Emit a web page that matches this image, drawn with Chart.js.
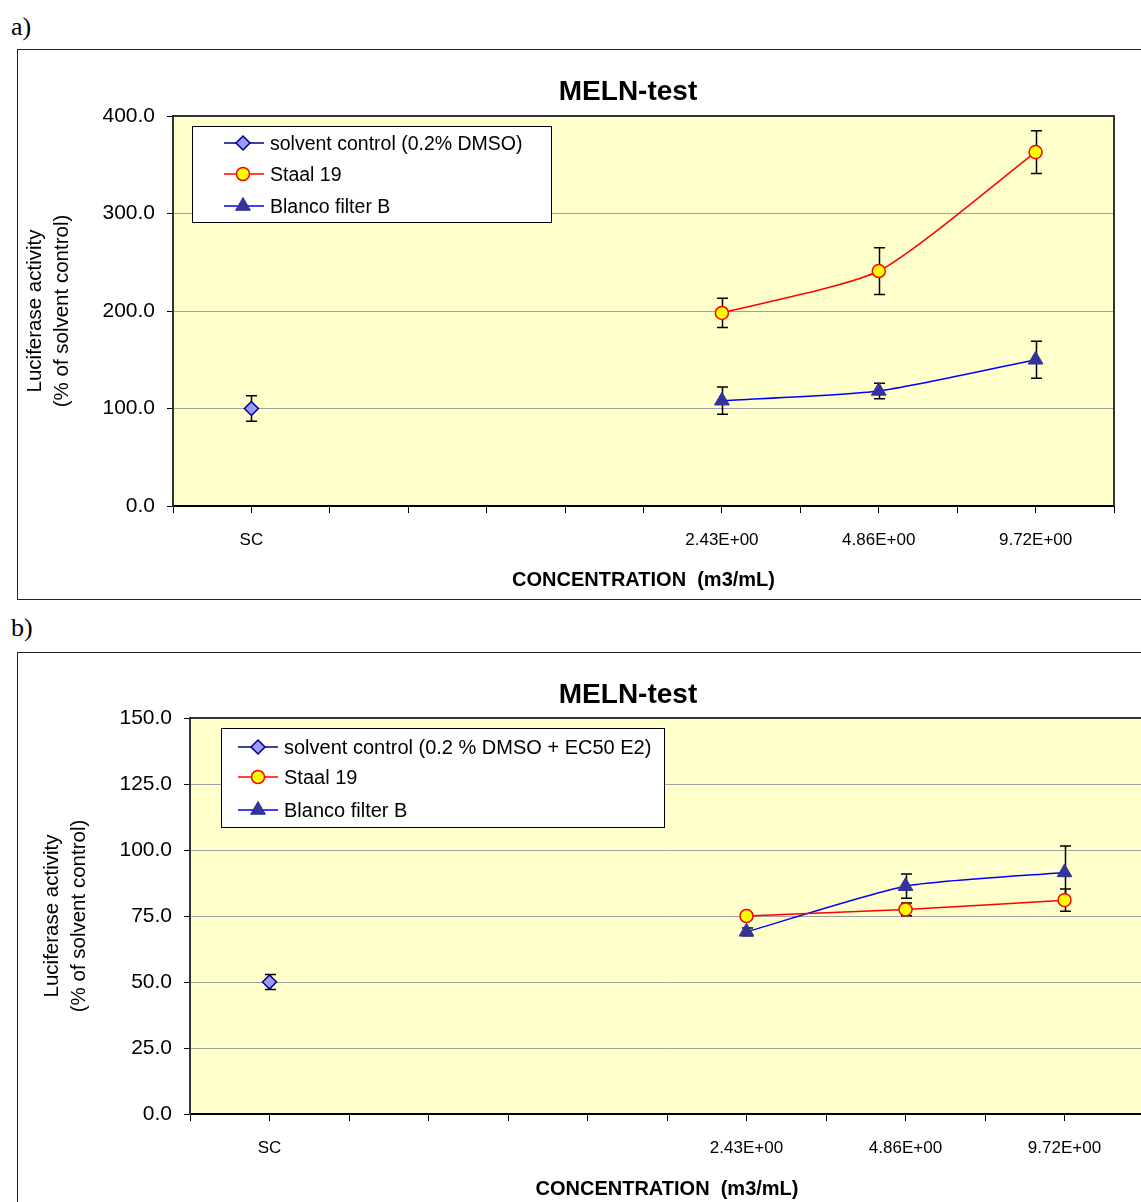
<!DOCTYPE html>
<html>
<head>
<meta charset="utf-8">
<script src="https://cdn.jsdelivr.net/npm/chart.js@4.4.0/dist/chart.umd.min.js"></script>
<style>
  html, body { margin: 0; padding: 0; background: #fff; }
  body { position: relative; width: 1141px; height: 1202px; overflow: hidden; }
  .tag { position: absolute; left: 11px; font: 26px 'Liberation Serif', 'Times New Roman', serif; line-height: 30px; }
  .panel { position: absolute; left: 17px; width: 1222px; }
  .panel canvas { position: absolute; left: 0; top: 0; }
  .frame { position: absolute; left: 0; top: 0; right: 0; bottom: 0; border: 1.5px solid #222; box-sizing: border-box; pointer-events: none; }
</style>
</head>
<body>
<div class="tag" style="top:12px">a)</div>
<div class="panel" style="top:49px;height:551px">
  <canvas id="meln-a" width="1222" height="551"></canvas>
  <div class="frame"></div>
</div>
<div class="tag" style="top:613px">b)</div>
<div class="panel" style="top:652px;height:558px">
  <canvas id="meln-b" width="1222" height="558"></canvas>
  <div class="frame"></div>
</div>
<script>
// x categories (blank slots keep the spacing of the concentration series)
const categories = ['', 'SC', '', '', '', '', '', '2.43E+00', '', '4.86E+00', '', '9.72E+00', ''];

// a) solvent control 0.2% DMSO
const yTicksA = [0, 100, 200, 300, 400];
const solventA    = [null, 100, null, null, null, null, null, null, null, null, null, null, null];
const solventAErr = [null, 13, null, null, null, null, null, null, null, null, null, null, null];
const staalA      = [null, null, null, null, null, null, null, 198, null, 241, null, 363, null];
const staalAErr   = [null, null, null, null, null, null, null, 15, null, 24, null, 22, null];
const blancoA     = [null, null, null, null, null, null, null, 108, null, 118, null, 150, null];
const blancoAErr  = [null, null, null, null, null, null, null, 14, null, 8, null, 19, null];

// b) solvent control + EC50 E2
const yTicksB = [0, 25, 50, 75, 100, 125, 150];
const solventB    = [null, 50, null, null, null, null, null, null, null, null, null, null, null];
const solventBErr = [null, 2.8, null, null, null, null, null, null, null, null, null, null, null];
const staalB      = [null, null, null, null, null, null, null, 75, null, 77.5, null, 81, null];
const staalBErr   = [null, null, null, null, null, null, null, 1, null, 2.4, null, 4.2, null];
const blancoB     = [null, null, null, null, null, null, null, 69, null, 86.3, null, 91.5, null];
const blancoBErr  = [null, null, null, null, null, null, null, 1.5, null, 4.6, null, 10, null];

const seriesNamesA = ['solvent control (0.2% DMSO)', 'Staal 19', 'Blanco filter B'];
const seriesNamesB = ['solvent control (0.2 % DMSO + EC50 E2)', 'Staal 19', 'Blanco filter B'];

const FONT = "'Liberation Sans', Arial, Helvetica, sans-serif";
Chart.defaults.font.family = FONT;
Chart.defaults.color = '#000';

// yellow plot area with dark frame on top and right
const plotFrame = {
  id: 'plotFrame',
  beforeDraw(chart) {
    const { ctx, chartArea: a } = chart;
    ctx.save();
    ctx.fillStyle = '#FFFFCC';
    ctx.fillRect(a.left, a.top, a.right - a.left, a.bottom - a.top);
    ctx.restore();
  },
  beforeDatasetsDraw(chart) {
    const { ctx, chartArea: a } = chart;
    ctx.save();
    ctx.strokeStyle = '#333';
    ctx.lineWidth = 2;
    ctx.beginPath();
    ctx.moveTo(a.left, a.top);
    ctx.lineTo(a.right, a.top);
    ctx.lineTo(a.right, a.bottom);
    ctx.stroke();
    ctx.restore();
  }
};

// vertical error bars from dataset.errors
const errorBars = {
  id: 'errorBars',
  beforeDatasetsDraw(chart) {
    const { ctx } = chart;
    const y = chart.scales.y;
    ctx.save();
    ctx.strokeStyle = '#000';
    ctx.lineWidth = 1.5;
    chart.data.datasets.forEach((ds, i) => {
      if (!ds.errors) return;
      chart.getDatasetMeta(i).data.forEach((pt, j) => {
        const v = ds.data[j], e = ds.errors[j];
        if (v == null || e == null) return;
        const x = Math.round(pt.x) + 0.5;
        const top = y.getPixelForValue(v + e);
        const bot = y.getPixelForValue(v - e);
        ctx.beginPath();
        ctx.moveTo(x, top); ctx.lineTo(x, bot);
        ctx.moveTo(x - 5.5, top); ctx.lineTo(x + 5.5, top);
        ctx.moveTo(x - 5.5, bot); ctx.lineTo(x + 5.5, bot);
        ctx.stroke();
      });
    });
    ctx.restore();
  }
};

// boxed legend sitting inside the plot area
const insideLegend = {
  id: 'insideLegend',
  afterDraw(chart, args, o) {
    const { ctx, chartArea: a } = chart;
    const bx = Math.round(a.left + o.x), by = Math.round(a.top + o.y);
    ctx.save();
    ctx.fillStyle = '#fff';
    ctx.fillRect(bx, by, o.w, o.h);
    ctx.strokeStyle = '#000';
    ctx.lineWidth = 1;
    ctx.strokeRect(bx + 0.5, by + 0.5, o.w, o.h);
    ctx.font = o.fontSize + 'px ' + FONT;
    ctx.textBaseline = 'middle';
    chart.data.datasets.forEach((ds, i) => {
      const ry = by + o.rows[i];
      ctx.strokeStyle = ds.borderColor;
      ctx.lineWidth = 1.5;
      ctx.beginPath();
      ctx.moveTo(bx + o.lineFrom, ry);
      ctx.lineTo(bx + o.lineTo, ry);
      ctx.stroke();
      ctx.fillStyle = ds.pointBackgroundColor;
      ctx.strokeStyle = ds.pointBorderColor;
      ctx.lineWidth = ds.pointBorderWidth;
      Chart.helpers.drawPoint(ctx, {
        pointStyle: ds.pointStyle, radius: ds.pointRadius,
        borderWidth: ds.pointBorderWidth, rotation: 0
      }, bx + o.marker, ry);
      ctx.fillStyle = '#000';
      ctx.fillText(ds.label, bx + o.text, ry + 1.5);
    });
    ctx.restore();
  }
};

function makeSeries(names, solvent, solventErr, staal, staalErr, blanco, blancoErr) {
  const common = { borderWidth: 1.5, tension: 0.2, spanGaps: true, pointBorderWidth: 1.5 };
  return [
    Object.assign({}, common, {
      label: names[0], data: solvent, errors: solventErr,
      borderColor: '#000080', pointStyle: 'rectRot', pointRadius: 7,
      pointBackgroundColor: '#9999FF', pointBorderColor: '#000080'
    }),
    Object.assign({}, common, {
      label: names[1], data: staal, errors: staalErr,
      borderColor: '#FF0000', pointStyle: 'circle', pointRadius: 6.5,
      pointBackgroundColor: '#FFFF00', pointBorderColor: '#FF0000'
    }),
    Object.assign({}, common, {
      label: names[2], data: blanco, errors: blancoErr,
      borderColor: '#0000FF', pointStyle: 'triangle', pointRadius: 8.5,
      pointBackgroundColor: '#333399', pointBorderColor: '#333399', pointBorderWidth: 1
    })
  ];
}

function makeChart(id, p) {
  return new Chart(document.getElementById(id), {
    type: 'line',
    data: { labels: categories, datasets: p.datasets },
    plugins: [plotFrame, errorBars, insideLegend],
    options: {
      responsive: false,
      animation: false,
      events: [],
      layout: { padding: 0 },
      plugins: {
        legend: { display: false },
        tooltip: { enabled: false },
        title: {
          display: true, text: 'MELN-test', color: '#000',
          font: { size: 28, weight: 'bold', lineHeight: 1.2 },
          padding: { top: 26.2, bottom: p.titleBottom }
        },
        insideLegend: p.legend
      },
      scales: {
        x: {
          type: 'category', offset: false,
          grid: { drawOnChartArea: false, tickLength: 7, color: '#000', tickColor: '#000' },
          border: { color: '#000', width: 2 },
          ticks: { autoSkip: false, maxRotation: 0, font: { size: 17 }, color: '#000', padding: 17 },
          title: {
            display: true, text: 'CONCENTRATION  (m3/mL)', color: '#000',
            font: { size: 20, weight: 'bold', lineHeight: 1.2 },
            padding: { top: 0, bottom: p.xTitleBottom }
          },
          afterFit(s) { s.height = p.xHeight; }
        },
        y: {
          min: p.ticks[0], max: p.ticks[p.ticks.length - 1],
          grid: { color: '#A0A0A0', tickColor: '#000', tickLength: 6, lineWidth: 1 },
          border: { color: '#333', width: 2 },
          ticks: {
            stepSize: p.ticks[1] - p.ticks[0], font: { size: 21 }, color: '#000', padding: 12,
            callback: v => v.toFixed(1)
          },
          title: {
            display: true, text: ['Luciferase activity', '(% of solvent control)'], color: '#000',
            font: { size: 20.5, lineHeight: 1.32 },
            padding: { top: p.yTitleTop, bottom: 0 }
          },
          afterFit(s) { s.width = p.yWidth; }
        },
        // empty strip on the right of the plot
        yr: {
          type: 'linear', position: 'right', display: true,
          grid: { display: false }, border: { display: false }, ticks: { display: false },
          afterFit(s) { s.width = p.rightGap; }
        }
      }
    }
  });
}

makeChart('meln-a', {
  datasets: makeSeries(seriesNamesA, solventA, solventAErr, staalA, staalAErr, blancoA, blancoAErr),
  ticks: yTicksA,
  titleBottom: 7.2, xHeight: 94, xTitleBottom: 8, yWidth: 156, yTitleTop: 4.5, rightGap: 125,
  legend: { x: 19, y: 10, w: 359, h: 96, rows: [17, 48, 80], lineFrom: 32, lineTo: 72, marker: 51, text: 78, fontSize: 19.5 }
});

makeChart('meln-b', {
  datasets: makeSeries(seriesNamesB, solventB, solventBErr, staalB, staalBErr, blancoB, blancoBErr),
  ticks: yTicksB,
  titleBottom: 6.2, xHeight: 96, xTitleBottom: 9, yWidth: 173, yTitleTop: 21.5, rightGap: 95,
  legend: { x: 31, y: 10, w: 443, h: 99, rows: [19, 49, 82], lineFrom: 17, lineTo: 57, marker: 37, text: 63, fontSize: 20 }
});
</script>
</body>
</html>
